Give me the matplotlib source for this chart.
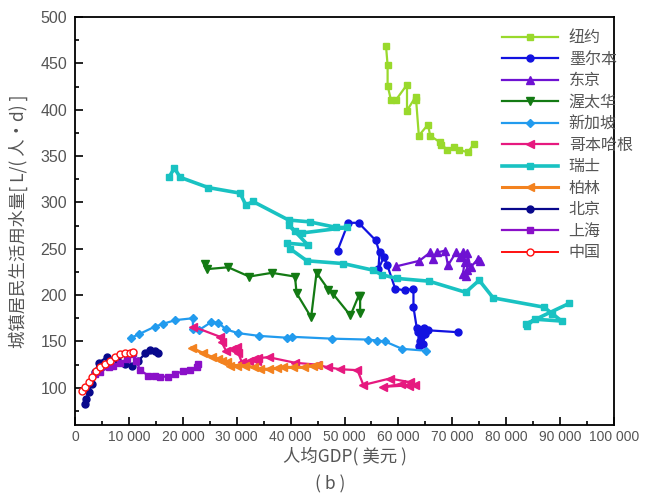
import matplotlib
matplotlib.use('Agg')
import matplotlib.pyplot as plt
from matplotlib.ticker import MultipleLocator, FuncFormatter

# 人均GDP (美元) / 城镇居民生活用水量 (L/(人·d))
ny_x = [57700, 58000, 58000, 58600, 59600, 61600, 61600, 63200, 63300, 63800, 65500, 65900,
        67700, 68000, 69100, 70300, 71200, 72900, 74000]
ny_y = [469, 448, 426, 411, 411, 427, 399, 414, 410, 372, 384, 372, 365, 362, 357, 360, 357, 354, 363]

mel_x = [48700, 50700, 52600, 55800, 56500, 56300, 57300, 57900, 59400, 61200, 62800, 62800,
         63400, 63700, 64000, 63800, 64500, 65000, 64200, 64700, 65500, 71000]
mel_y = [248, 278, 278, 259, 246, 228, 241, 233, 207, 205, 207, 187, 165, 160, 150, 145, 147, 158,
         155, 165, 162, 160]

tok_x = [59600, 63900, 65900, 66500, 67200, 68700, 69200, 70700, 71400, 72000, 72300, 72000,
         72600, 72800, 72800, 73400, 74800, 75100]
tok_y = [231, 237, 246, 239, 246, 248, 232, 246, 241, 246, 236, 223, 221, 227, 245, 230, 239, 237]

ott_x = [24100, 24400, 28400, 32300, 36500, 40800, 41100, 43800, 44800, 47000, 47900, 51100,
         52600, 52900, 52900]
ott_y = [234, 228, 230, 220, 224, 220, 202, 176, 224, 206, 201, 178, 199, 199, 181]

sg_x = [10400, 11900, 14800, 16300, 18600, 21800, 21900, 22900, 25300, 26600, 28000, 30200,
        34100, 39300, 40200, 47600, 54400, 56000, 57500, 60700, 65100]
sg_y = [154, 158, 166, 169, 173, 175, 163, 162, 171, 170, 163, 159, 156, 154, 155, 153, 152,
        151, 150, 142, 140]

cph_x = [21900, 26900, 27200, 28000, 29100, 30000, 30300, 30900, 32200, 33200, 33700, 34000,
         35900, 40800, 44800, 47000, 49200, 52400, 53500, 58400, 62200, 63100, 57200, 60500,
         62000]
cph_y = [166, 155, 149, 140, 142, 144, 137, 128, 129, 131, 129, 132, 133, 127, 125, 122, 120,
         119, 103, 110, 106, 103, 101, 104, 102]

ch_x = [17400, 18400, 19500, 24700, 30600, 31700, 33000, 39600, 43500, 48500, 50400, 42100,
        40800, 39600, 43200, 39400, 39900, 43000, 49800, 55200, 56900, 59700, 65700, 72500,
        75000, 77600, 87000, 88600, 90300, 85300, 83900, 83700, 91700]
ch_y = [327, 337, 327, 316, 310, 297, 301, 281, 279, 273, 273, 267, 269, 276, 254, 256, 250,
        237, 234, 227, 222, 218, 215, 203, 216, 197, 187, 180, 172, 174, 167, 169, 191]

ber_x = [21600, 23800, 25400, 26600, 27200, 28100, 28800, 30000, 31500, 33100, 34300, 35900,
         37400, 38600, 40500, 42400, 44200, 45100]
ber_y = [143, 137, 133, 131, 129, 128, 124, 124, 124, 122, 120, 120, 121, 122, 122, 122, 124, 125]

bj_x = [1860, 2040, 2470, 3100, 3700, 4320, 5880, 7740, 9280, 10500, 11700, 13000, 13900,
        14800, 15300]
bj_y = [82, 88, 95, 104, 117, 127, 133, 131, 126, 124, 129, 137, 141, 140, 138]

sh_x = [3700, 4640, 6180, 7100, 8350, 9650, 10500, 10800, 11300, 12060, 13600, 14840, 15770,
        17300, 18550, 20100, 21300, 22600, 22800]
sh_y = [115, 117, 122, 124, 127, 131, 136, 138, 129, 119, 113, 113, 112, 112, 115, 118, 119,
        122, 126]

cn_x = [1240, 1860, 2470, 3100, 3900, 4640, 5570, 6490, 7420, 8350, 9280, 10200, 10800]
cn_y = [97, 101, 106, 112, 118, 122, 126, 129, 133, 136, 137, 138, 139]

cjk = ['Noto Sans CJK SC', 'DejaVu Sans']
num = ['Liberation Sans', 'DejaVu Sans']
txt = '#555555'

fig = plt.figure(figsize=(6.6, 5.01), dpi=100)
ax = fig.add_axes([0.114, 0.152, 0.816, 0.814])

ax.plot(ny_x, ny_y, '-s', color='#99D92C', lw=1.6, ms=4.5, label='纽约')
ax.plot(mel_x, mel_y, '-o', color='#1212E0', lw=1.6, ms=5, label='墨尔本')
ax.plot(tok_x, tok_y, '-^', color='#6E12D2', lw=1.6, ms=5.5, label='东京')
ax.plot(ott_x, ott_y, '-v', color='#137A13', lw=1.6, ms=5.5, label='渥太华')
ax.plot(sg_x, sg_y, '-D', color='#229BEE', lw=1.6, ms=4.5, label='新加坡')
ax.plot(cph_x, cph_y, '-<', color='#E6197F', lw=1.6, ms=5.5, label='哥本哈根')
ax.plot(ch_x, ch_y, '-s', color='#19C2C2', lw=2.6, ms=4.5, label='瑞士')
ax.plot(ber_x, ber_y, '-<', color='#F3821F', lw=2.2, ms=5.5, label='柏林')
ax.plot(bj_x, bj_y, '-o', color='#08088C', lw=1.6, ms=5, label='北京')
ax.plot(sh_x, sh_y, '-s', color='#8A10C8', lw=1.6, ms=4.5, label='上海')
ax.plot(cn_x, cn_y, '-o', color='#FF1010', lw=1.4, ms=5, mfc='white', mec='#FF1010',
        label='中国')

ax.set_xlim(0, 100000)
ax.set_ylim(60, 500)
ax.xaxis.set_major_locator(MultipleLocator(10000))
ax.xaxis.set_minor_locator(MultipleLocator(5000))
ax.yaxis.set_minor_locator(MultipleLocator(25))
ax.set_yticks(range(100, 501, 50))
ax.xaxis.set_major_formatter(FuncFormatter(
    lambda v, p: f'{int(v):,}'.replace(',', ' ')))
ax.tick_params(which='both', direction='in', colors='black', labelcolor=txt, width=1.2)
ax.tick_params(which='major', length=6)
ax.tick_params(which='minor', length=3)
ax.tick_params(axis='x', labelsize=10, pad=4)
ax.tick_params(axis='y', labelsize=11.5, pad=6)
for lbl in ax.get_xticklabels() + ax.get_yticklabels():
    lbl.set_family(num)
for s in ax.spines.values():
    s.set_linewidth(1.3)

ax.set_xlabel('人均GDP( 美元 )', family=cjk, fontsize=12.5, color=txt, labelpad=2)
ax.set_ylabel('城镇居民生活用水量[ L/( 人·d) ]', family=cjk, fontsize=12.5, color=txt,
              labelpad=9)
fig.text(0.5, 0.034, '( b )', family=cjk, fontsize=12.5, color=txt, ha='center',
         va='center')

leg = ax.legend(loc='upper left', bbox_to_anchor=(0.765, 1.005), frameon=False,
                handlelength=3.5, handletextpad=0.7, labelspacing=0.28,
                prop={'family': cjk, 'size': 11.5})
for t in leg.get_texts():
    t.set_color(txt)

fig.savefig('out.png', dpi=100)
